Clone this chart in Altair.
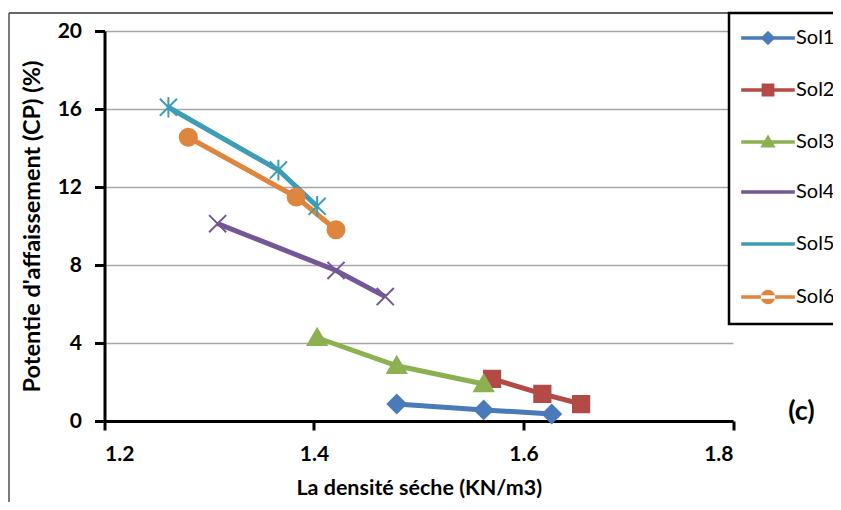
import altair as alt
import pandas as pd

series = ["Sol1", "Sol2", "Sol3", "Sol4", "Sol5", "Sol6"]
colors = ["#4a7ab8", "#b44a46", "#8db050", "#735796", "#3e9cb5", "#de853e"]

sol1_x = [1.479, 1.562, 1.627]
sol1_y = [0.87, 0.57, 0.36]
sol2_x = [1.570, 1.618, 1.655]
sol2_y = [2.16, 1.39, 0.87]
sol3_x = [1.403, 1.479, 1.562]
sol3_y = [4.27, 2.83, 1.90]
sol4_x = [1.308, 1.421, 1.468]
sol4_y = [10.12, 7.72, 6.38]
sol5_x = [1.261, 1.366, 1.403]
sol5_y = [16.09, 12.87, 11.01]
sol6_x = [1.280, 1.383, 1.421]
sol6_y = [14.55, 11.49, 9.81]

x_ticks = [1.2, 1.4, 1.6, 1.8]
y_ticks = [0, 4, 8, 12, 16, 20]

xs = [sol1_x, sol2_x, sol3_x, sol4_x, sol5_x, sol6_x]
ys = [sol1_y, sol2_y, sol3_y, sol4_y, sol5_y, sol6_y]
rows = []
for name, xv, yv in zip(series, xs, ys):
    for a, b in zip(xv, yv):
        rows.append({"sol": name, "d": a, "cp": b})
df = pd.DataFrame(rows)

FONT = "Lato"

# marker shapes for the plotted points
marker_paths = [
    "M0,-1L1,0L0,1L-1,0Z",
    "M-0.9,-0.9H0.9V0.9H-0.9Z",
    "M0,-1L1.05,0.8L-1.05,0.8Z",
    "M-0.95,-0.95L0.95,0.95M-0.95,0.95L0.95,-0.95",
    "M-0.95,-0.95L0.95,0.95M-0.95,0.95L0.95,-0.95M0,-1.15V1.15",
    "M-0.95,0A0.95,0.95 0 1,0 0.95,0A0.95,0.95 0 1,0 -0.95,0Z",
]
point_fill = colors[:3] + ["transparent", "transparent"] + colors[5:]

# legend symbols: a line segment with the marker in its middle
line_seg = "M-1.6,-0.22H5.1V0.22H-1.6Z"
c = 1.75
legend_paths = [
    line_seg + f"M{c},-0.9L{c+0.9},0L{c},0.9L{c-0.9},0Z",
    line_seg + f"M{c-0.8},-0.8H{c+0.8}V0.8H{c-0.8}Z",
    line_seg + f"M{c},-0.95L{c+0.95},0.7L{c-0.95},0.7Z",
    line_seg + f"M{c-0.8},-0.8L{c+0.8},0.8M{c-0.8},0.8L{c+0.8},-0.8",
    line_seg + f"M{c-0.8},-0.8L{c+0.8},0.8M{c-0.8},0.8L{c+0.8},-0.8M{c},-1V1",
    line_seg + f"M{c-0.9},0A0.9,0.9 0 1,0 {c+0.9},0A0.9,0.9 0 1,0 {c-0.9},0Z",
]

x_enc = alt.X(
    "d:Q",
    scale=alt.Scale(domain=[1.2, 1.8], nice=False, zero=False),
    axis=alt.Axis(
        values=x_ticks, format=".1f", title="La densité séche (KN/m3)",
        grid=False, domainColor="black", domainWidth=3, tickColor="black",
        tickWidth=3, tickSize=9, labelPadding=13, labelFont=FONT,
        labelFontSize=21, labelFontWeight="bold", labelColor="black",
        titleFont=FONT, titleFontSize=21.5, titleFontWeight="bold",
        titleColor="black", titlePadding=13,
    ),
)
y_enc = alt.Y(
    "cp:Q",
    scale=alt.Scale(domain=[0, 20], nice=False),
    axis=alt.Axis(
        values=y_ticks, format="d", title="Potentie d'affaissement (CP) (%)",
        grid=True, gridColor="#a6a6a6", gridWidth=1.5,
        domainColor="black", domainWidth=3, tickColor="black",
        tickWidth=3, tickSize=10, labelPadding=13, labelFont=FONT,
        labelFontSize=21, labelFontWeight="bold", labelColor="black",
        titleFont=FONT, titleFontSize=23.5, titleFontWeight="bold",
        titleColor="black", titlePadding=13,
    ),
)

stroke_scale = alt.Scale(domain=series, range=colors)

lines = alt.Chart(df).mark_line(strokeWidth=5).encode(
    x=x_enc, y=y_enc,
    stroke=alt.Stroke("sol:N", scale=stroke_scale, legend=None),
    detail="sol:N",
)

points = alt.Chart(df).mark_point(size=324, strokeWidth=2, opacity=1).encode(
    x="d:Q", y="cp:Q",
    stroke=alt.Stroke("sol:N", scale=stroke_scale, legend=None),
    fill=alt.Fill("sol:N", scale=alt.Scale(domain=series, range=point_fill), legend=None),
    shape=alt.Shape("sol:N", scale=alt.Scale(domain=series, range=marker_paths), legend=None),
)

legend_layer = alt.Chart(df).transform_filter("false").mark_point(
    size=256, strokeWidth=2, opacity=1
).encode(
    x="d:Q", y="cp:Q",
    stroke=alt.Stroke("sol:N", scale=stroke_scale, legend=alt.Legend(title=None)),
    fill=alt.Fill("sol:N", scale=alt.Scale(domain=series, range=colors),
                  legend=alt.Legend(title=None)),
    shape=alt.Shape(
        "sol:N", scale=alt.Scale(domain=series, range=legend_paths),
        legend=alt.Legend(
            title=None, orient="none", legendX=624.5, legendY=-18,
            symbolSize=256, symbolStrokeWidth=2, labelFont=FONT,
            labelFontSize=20, labelColor="black", labelOffset=32,
            rowPadding=29, padding=15, strokeColor="black",
            fillColor="white",
        ),
    ),
)

frame_left = alt.Chart(alt.Data(values=[{"k": 1}])).mark_rule(
    color="#333333", strokeWidth=1.3
).encode(x=alt.value(-95.5), y=alt.value(-18), y2=alt.value(480))
frame_top = alt.Chart(alt.Data(values=[{"k": 1}])).mark_rule(
    color="#333333", strokeWidth=1.3
).encode(x=alt.value(-95.5), x2=alt.value(640), y=alt.value(-18))

label_c = alt.Chart(alt.Data(values=[{"t": "(c)"}])).mark_text(
    font=FONT, fontSize=27, fontWeight="bold", color="black"
).encode(x=alt.value(697), y=alt.value(381), text="t:N")

chart = alt.layer(
    frame_left, frame_top, lines, points, legend_layer, label_c
).resolve_scale(
    shape="independent", fill="independent"
).properties(
    width=628.5, height=390,
    padding={"left": 96.5, "top": 23, "right": 100, "bottom": 81},
    autosize=alt.AutoSizeParams(type="none"),
).configure_view(stroke=None).configure_legend(strokeWidth=2.5)

chart.save("out.html", embed_options={"renderer": "svg", "actions": False})
